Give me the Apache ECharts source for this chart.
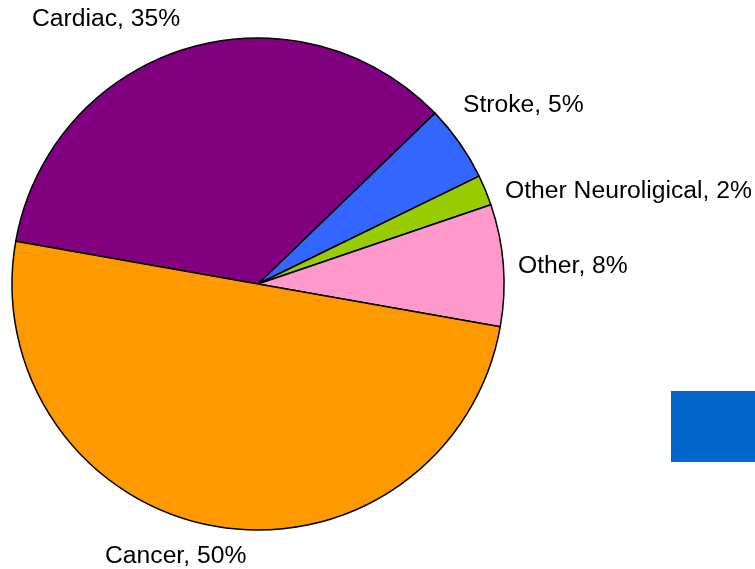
<!DOCTYPE html>
<html>
<head>
<meta charset="utf-8">
<script src="https://cdn.jsdelivr.net/npm/echarts@6/dist/echarts.min.js"></script>
<style>html,body{margin:0;padding:0;background:#fff}#c{width:755px;height:569px}</style>
</head>
<body>
<div id="c"></div>
<script>
const categories = ['Cardiac', 'Stroke', 'Other Neuroligical', 'Other', 'Cancer'];
const values = [35, 5, 2, 8, 50];
const colors = ['#800080', '#3366FF', '#99CC00', '#FF99CC', '#FF9900'];
// label anchor positions (left edge, vertical middle)
const labelPos = [[32, 19], [463, 105], [505, 191], [518, 266], [105, 556]];

const chart = echarts.init(document.getElementById('c'), null, {renderer: 'canvas'});
chart.setOption({
  animation: false,
  backgroundColor: '#ffffff',
  graphic: [{
    type: 'rect',
    shape: {x: 671, y: 391, width: 90, height: 71},
    style: {fill: '#0066CC'}
  }],
  series: [{
    type: 'pie',
    center: [258, 284],
    radius: 246,
    startAngle: 170,
    clockwise: true,
    avoidLabelOverlap: false,
    data: categories.map((c, i) => ({name: c, value: values[i], itemStyle: {color: colors[i]}})),
    itemStyle: {borderColor: '#000', borderWidth: 1.5},
    label: {
      show: true,
      position: 'outside',
      formatter: p => p.name + ', ' + p.value + '%',
      fontFamily: 'Liberation Sans, Arial, sans-serif',
      fontSize: 24.7,
      color: '#000'
    },
    labelLine: {show: false},
    labelLayout: params => ({
      x: labelPos[params.dataIndex][0],
      y: labelPos[params.dataIndex][1],
      align: 'left',
      verticalAlign: 'middle'
    }),
    emphasis: {disabled: true}
  }]
});
</script>
</body>
</html>
